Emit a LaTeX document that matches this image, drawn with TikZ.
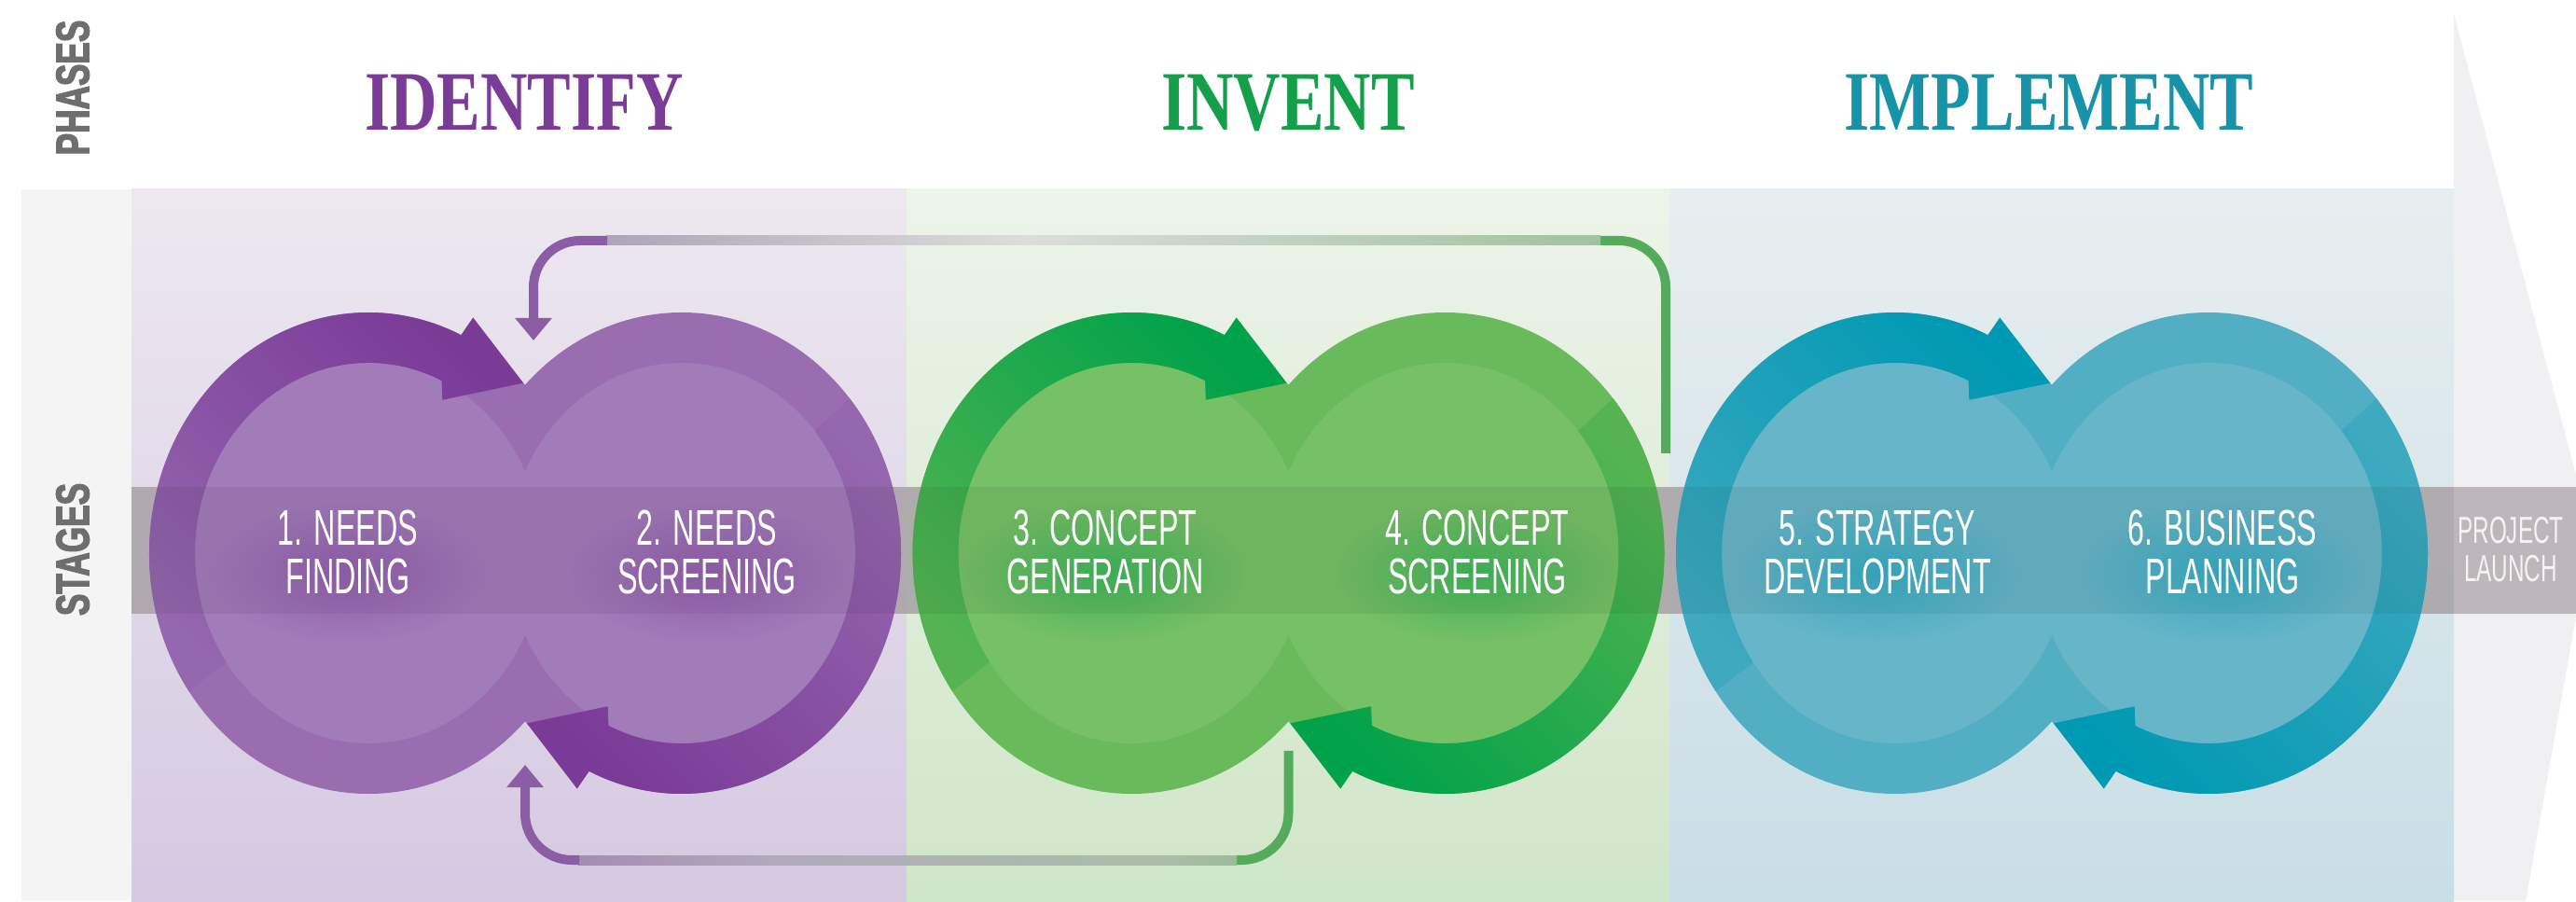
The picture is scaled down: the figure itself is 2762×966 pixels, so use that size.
\documentclass[tikz,border=0pt]{standalone}
\usepackage{fontspec}
\usetikzlibrary{arrows.meta,fadings,calc}
\newfontfamily\stagefont[FakeStretch=0.60]{Liberation Sans}
\newfontfamily\titlefont[FakeStretch=0.77]{Liberation Serif}
\newfontfamily\sidefont[FakeStretch=0.70, FakeBold=2.5, UprightFont={* Bold}]{Liberation Sans}

\definecolor{pring}{HTML}{9A6DB1}
\definecolor{plight}{HTML}{A27BB9}
\definecolor{ptail}{HTML}{9567AE}
\definecolor{pdark}{HTML}{7A3B97}
\definecolor{gring}{HTML}{69BA5B}
\definecolor{glight}{HTML}{76C065}
\definecolor{gtail}{HTML}{55B451}
\definecolor{gdark}{HTML}{00A24A}
\definecolor{tring}{HTML}{52AEC3}
\definecolor{tlight}{HTML}{66B5C8}
\definecolor{ttail}{HTML}{3FA9C0}
\definecolor{tdark}{HTML}{0099B3}
\definecolor{ptitle}{HTML}{7B3C98}
\definecolor{gtitle}{HTML}{14A04B}
\definecolor{ttitle}{HTML}{1693A8}
\definecolor{pnlPtop}{HTML}{EDE8F0}
\definecolor{pnlPbot}{HTML}{D5C9E1}
\definecolor{pnlGtop}{HTML}{EDF4EA}
\definecolor{pnlGbot}{HTML}{D0E6C8}
\definecolor{pnlTtop}{HTML}{E7EEF0}
\definecolor{pnlTbot}{HTML}{C8DEE5}
\definecolor{leftstrip}{HTML}{F4F4F5}
\definecolor{chevron}{HTML}{F0F0F2}
\definecolor{bandgray}{HTML}{B5AEB2}
\definecolor{sidegray}{HTML}{6E6E6E}
\definecolor{launchwhite}{HTML}{F4F2F3}
\definecolor{fbpurple}{HTML}{8A5DA5}
\definecolor{fbgreen}{HTML}{55AB5C}
\definecolor{fbA}{HTML}{A9A0B4}
\definecolor{fbB}{HTML}{DCDDDA}
\definecolor{fbC}{HTML}{9DC09C}
\definecolor{fbD}{HTML}{B2AABB}
\definecolor{fbE}{HTML}{A9BEA6}

\pgfdeclarehorizontalshading{fbtopshade}{100bp}{color(0bp)=(fbpurple); color(23bp)=(fbA); color(46bp)=(fbB); color(77bp)=(fbC); color(100bp)=(fbgreen)}
\pgfdeclarehorizontalshading{fbbotshade}{100bp}{color(0bp)=(fbpurple); color(40bp)=(fbD); color(70bp)=(fbE); color(100bp)=(fbgreen)}
\tikzfading[name=glowfade, inner color=transparent!55, outer color=transparent!100]

\begin{document}
\begin{tikzpicture}[x=0.01cm, y=0.01cm,
  fbline/.style={line width=0.1cm, line cap=butt},
  fbtip/.style={-{Triangle[width=0.38cm, length=0.24cm]}},
  stagelbl/.style={text=white, align=center, inner sep=0pt, font=\stagefont\fontsize{15.3}{14.6}\selectfont},
  titlelbl/.style={anchor=base, inner sep=0pt, font=\titlefont\bfseries\fontsize{25.8}{26}\selectfont},
  sidelbl/.style={rotate=90, text=sidegray, inner sep=0pt, font=\sidefont\fontsize{14.3}{14.3}\selectfont}]
\useasboundingbox (0,0) rectangle (2762,966);
\fill[white] (0,0) rectangle (2762,966);
\fill[leftstrip] (23,0) rectangle (141,763);
\fill[chevron] (2631,0) -- (2631,951) -- (2778,396) -- (2708,0) -- cycle;
\shade[top color=pnlPtop, bottom color=pnlPbot] (141,0) rectangle (972,763);
\shade[top color=pnlGtop, bottom color=pnlGbot] (972,0) rectangle (1790,763);
\shade[top color=pnlTtop, bottom color=pnlTbot] (1790,0) rectangle (2631,763);
\fill[bandgray, opacity=0.85] (141,308) rectangle (2762,444);

\foreach \cx/\colR/\colL/\colT/\colD [count=\k] in {563/pring/plight/ptail/pdark, 1381.5/gring/glight/gtail/gdark, 2200/tring/tlight/ttail/tdark} {
\coordinate (pair\k) at (\cx,373);
\begin{scope}[shift={(pair\k)}]
\fill[fill=\colR] (-168,0) ellipse [x radius=235, y radius=258];
\fill[fill=\colR] (168,0) ellipse [x radius=235, y radius=258];
\fill[fill=\colL] (-168,0) ellipse [x radius=186, y radius=204];
\fill[fill=\colL] (168,0) ellipse [x radius=186, y radius=204];
\begin{scope}[shift={(-168,0)}]
\shade[top color=\colD, bottom color=\colT, shading angle=-45] (215:235 and 258) arc[start angle=215, end angle=65, x radius=235, y radius=258] -- (64:256 and 281) -- (45:235 and 258) -- (62:169 and 186) -- (65:186 and 204) arc[start angle=65, end angle=215, x radius=186, y radius=204] -- cycle;
\end{scope}
\begin{scope}[shift={(168,0)}]
\shade[top color=\colT, bottom color=\colD, shading angle=-45] (40:235 and 258) arc[start angle=40, end angle=-115, x radius=235, y radius=258] -- (-116:256 and 281) -- (-135:235 and 258) -- (-118:169 and 186) -- (-115:186 and 204) arc[start angle=-115, end angle=40, x radius=186, y radius=204] -- cycle;
\end{scope}
\end{scope}
}
\fill[black, opacity=0.06] (141,308) rectangle (2631,444);

\coordinate (fbTopFrom) at (1786,480);
\coordinate (fbTopRight) at (1715,708);
\coordinate (fbTopLeft) at (651,708);
\coordinate (fbTopTo) at (572,601);
\path[draw=fbgreen, fbline, rounded corners=0.5cm] (fbTopFrom) |- (fbTopRight);
\shade[shading=fbtopshade] ($(fbTopLeft)+(-1,-5)$) rectangle ($(fbTopRight)+(1,5)$);
\path[draw=fbpurple, fbline, fbtip, rounded corners=0.5cm] (fbTopLeft) -| (fbTopTo);

\coordinate (fbBotFrom) at (1381.5,161);
\coordinate (fbBotRight) at (1325,44);
\coordinate (fbBotLeft) at (621,44);
\coordinate (fbBotTo) at (563,146);
\path[draw=fbgreen, fbline, rounded corners=0.5cm] (fbBotFrom) |- (fbBotRight);
\shade[shading=fbbotshade] ($(fbBotLeft)+(-1,-5)$) rectangle ($(fbBotRight)+(1,5)$);
\path[draw=fbpurple, fbline, fbtip, rounded corners=0.5cm] (fbBotLeft) -| (fbBotTo);

\foreach \gx/\gc in {373/pdark, 758/pdark, 1185/gdark, 1584/gdark, 2013/tdark, 2383/tdark}
  \fill[fill=\gc, path fading=glowfade] (\gx,352) ellipse [x radius=150, y radius=75];

\node[stagelbl] (st1) at (373,374) {1. NEEDS\\FINDING};
\node[stagelbl] (st2) at (758,374) {2. NEEDS\\SCREENING};
\node[stagelbl] (st3) at (1185,374) {3. CONCEPT\\GENERATION};
\node[stagelbl] (st4) at (1584,374) {4. CONCEPT\\SCREENING};
\node[stagelbl] (st5) at (2013,374) {5. STRATEGY\\DEVELOPMENT};
\node[stagelbl] (st6) at (2383,374) {6. BUSINESS\\PLANNING};
\node[stagelbl, text=launchwhite, font=\stagefont\fontsize{11.5}{11.5}\selectfont] (launch) at (2692,377) {PROJECT\\LAUNCH};

\node[titlelbl, text=ptitle] (phI) at (562,826) {IDENTIFY};
\node[titlelbl, text=gtitle] (phV) at (1381,826) {INVENT};
\node[titlelbl, text=ttitle] (phM) at (2197,826) {IMPLEMENT};

\node[sidelbl] (sidePh) at (78,872) {PHASES};
\node[sidelbl] (sideSt) at (78,377) {STAGES};
\end{tikzpicture}
\end{document}
